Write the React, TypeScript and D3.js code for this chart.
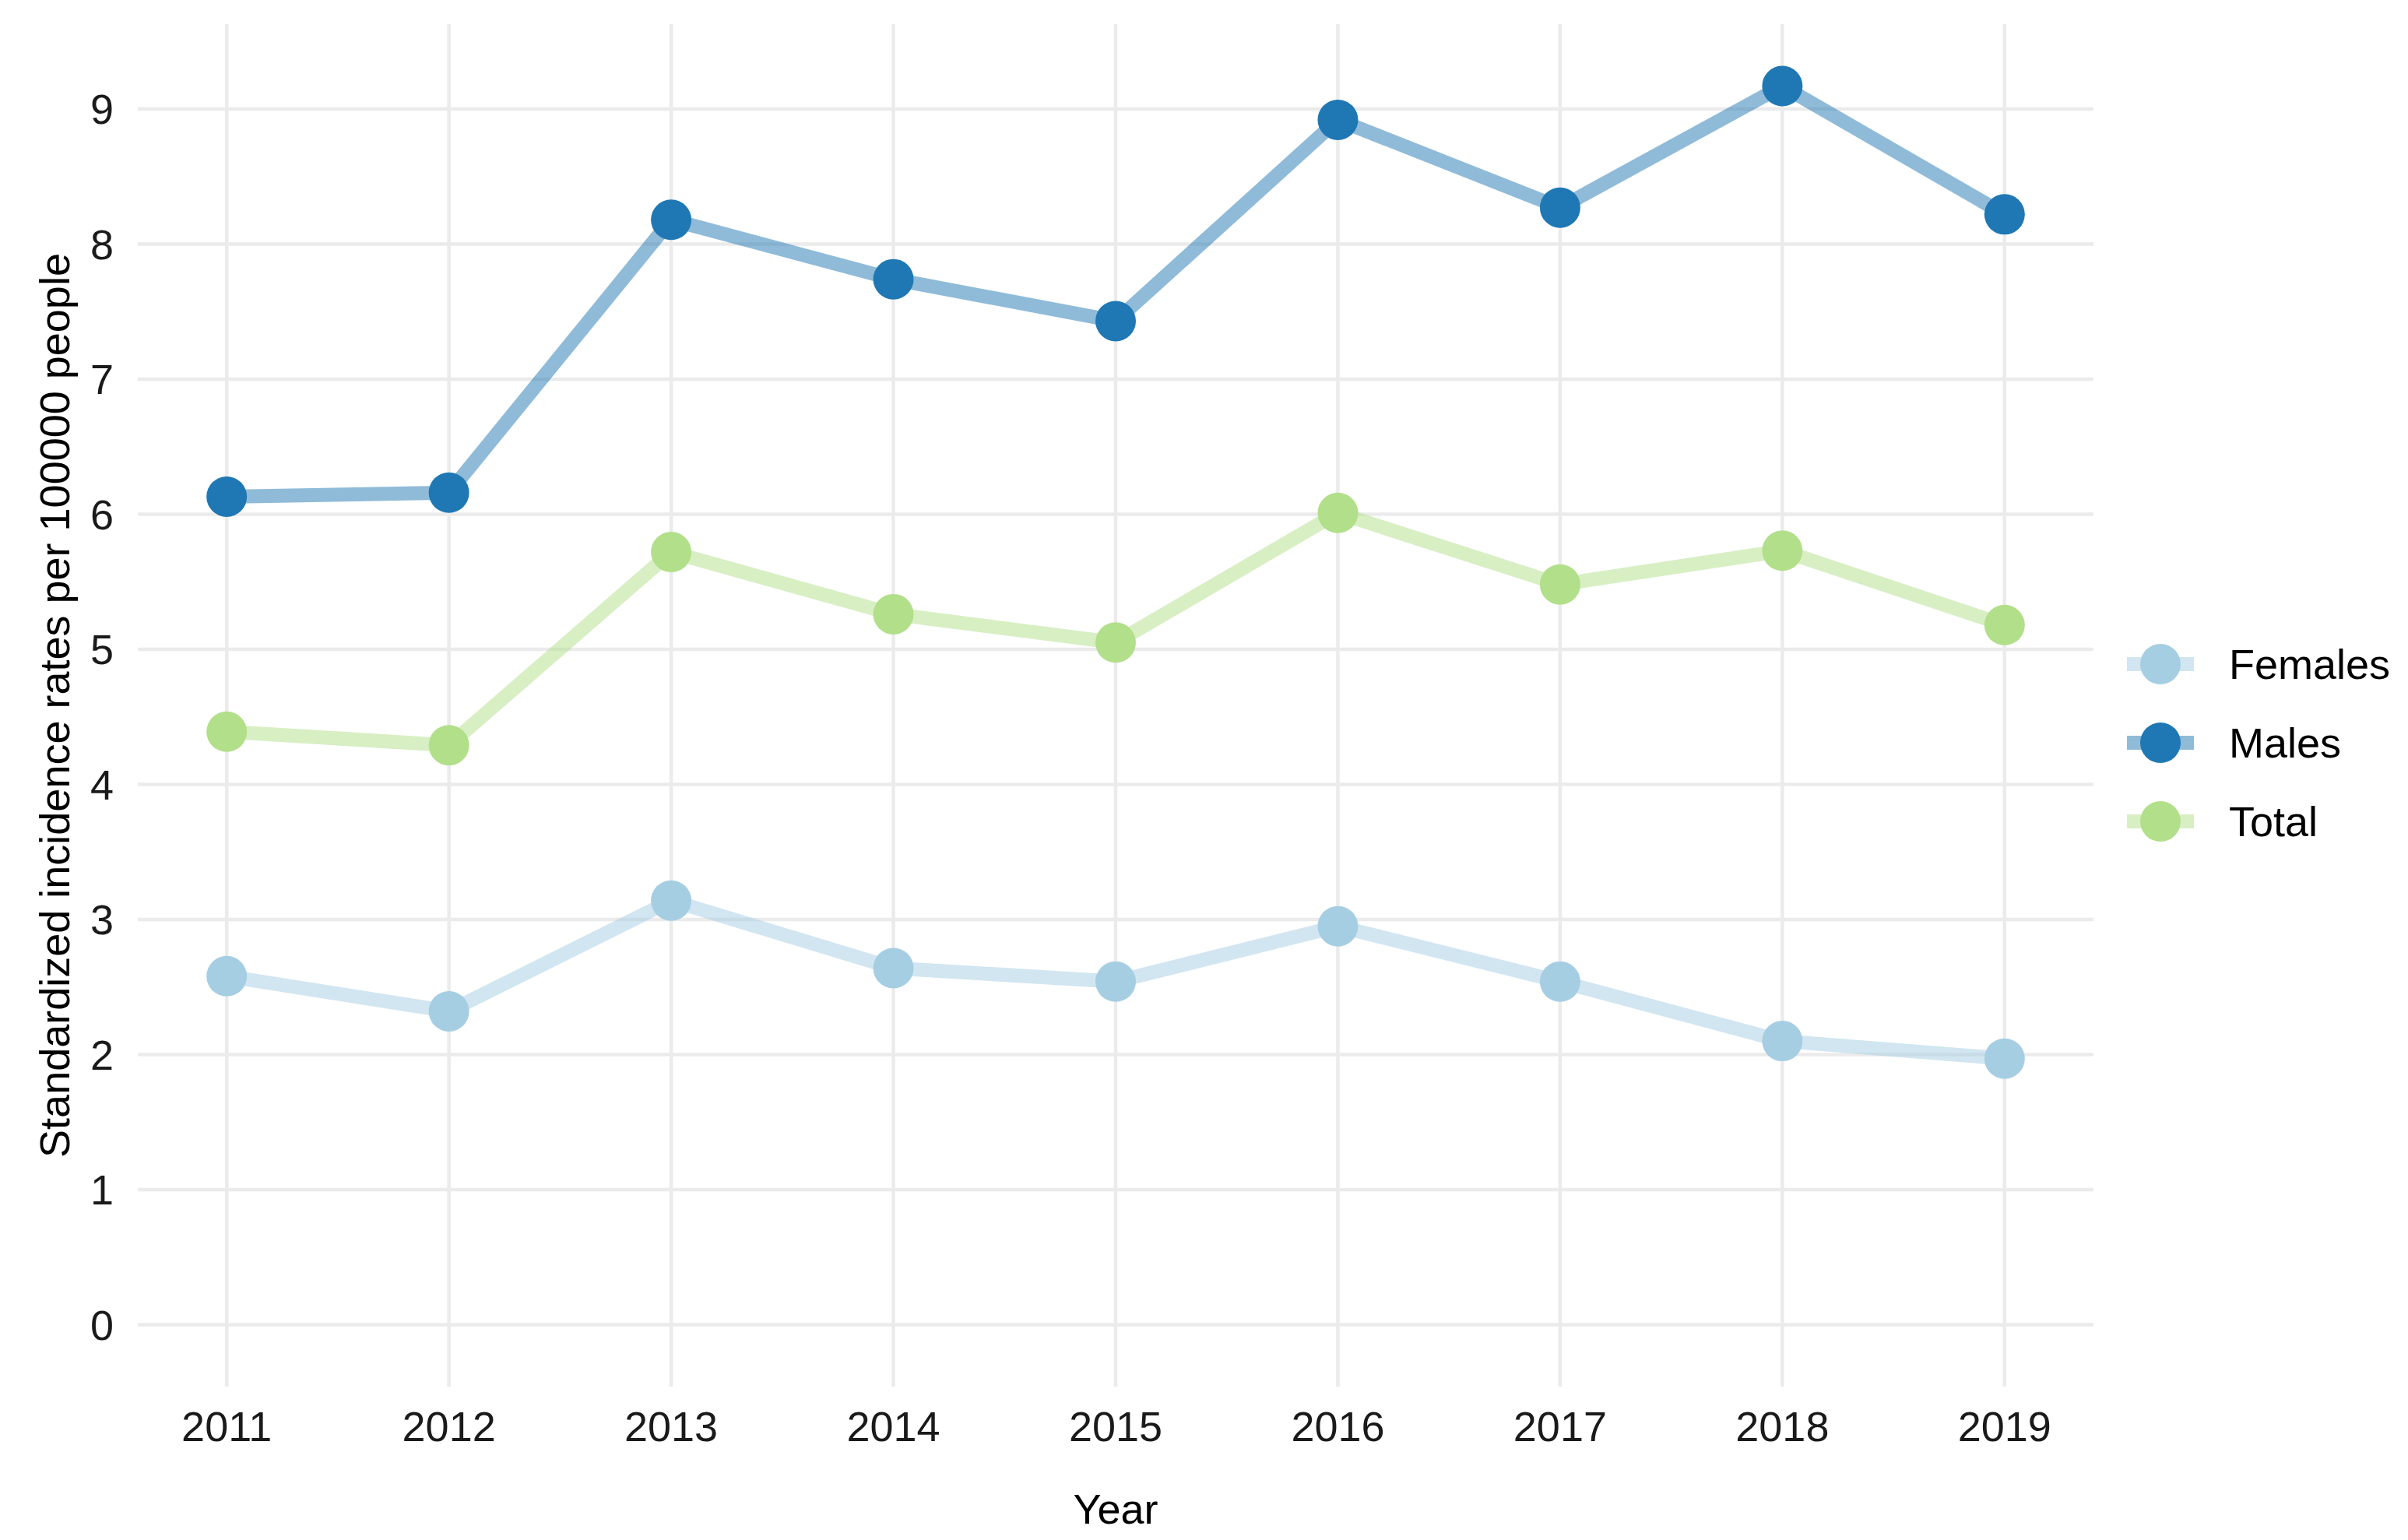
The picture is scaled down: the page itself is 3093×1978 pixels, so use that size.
import { useEffect, useRef } from 'react';
import * as d3 from 'd3';

const years = [2011, 2012, 2013, 2014, 2015, 2016, 2017, 2018, 2019];
const females = [2.58, 2.32, 3.14, 2.64, 2.54, 2.95, 2.54, 2.1, 1.97];
const males = [6.13, 6.16, 8.18, 7.74, 7.43, 8.92, 8.27, 9.17, 8.22];
const total = [4.39, 4.29, 5.72, 5.26, 5.05, 6.01, 5.48, 5.73, 5.18];
const seriesNames = ['Females', 'Males', 'Total'];
const seriesColors = ['#a6cee3', '#1f78b4', '#b2df8a'];
const yTicks = [0, 1, 2, 3, 4, 5, 6, 7, 8, 9];

export default function App() {
  const svgRef = useRef<SVGSVGElement>(null);

  useEffect(() => {
    const width = 3093;
    const height = 1978;
    const panel = { left: 177, right: 2689, top: 31, bottom: 1781 };
    const font = "'Liberation Sans', Arial, Helvetica, sans-serif";

    const series = [females, males, total].map((vals, i) => ({
      name: seriesNames[i],
      color: seriesColors[i],
      points: years.map((yr, j) => ({ year: yr, value: vals[j] })),
    }));

    // ggplot-style 5% expansion
    const xMin = d3.min(years)!;
    const xMax = d3.max(years)!;
    const xPad = (xMax - xMin) * 0.05;
    const yLo = 0;
    const yHi = d3.max([females, males, total].flat())!;
    const yPad = (yHi - yLo) * 0.05;

    const x = d3
      .scaleLinear()
      .domain([xMin - xPad, xMax + xPad])
      .range([panel.left, panel.right]);

    const y = d3
      .scaleLinear()
      .domain([yLo - yPad, yHi + yPad])
      .range([panel.bottom, panel.top]);

    const svg = d3.select(svgRef.current);
    svg.selectAll('*').remove();
    svg.attr('width', width).attr('height', height);

    svg.append('rect').attr('width', width).attr('height', height).attr('fill', '#ffffff');

    // Grid
    const grid = svg.append('g').attr('stroke', '#ebebeb').attr('stroke-width', 4.5);
    grid
      .selectAll('line.h')
      .data(yTicks)
      .enter()
      .append('line')
      .attr('x1', panel.left)
      .attr('x2', panel.right)
      .attr('y1', d => y(d))
      .attr('y2', d => y(d));
    grid
      .selectAll('line.v')
      .data(years)
      .enter()
      .append('line')
      .attr('x1', d => x(d))
      .attr('x2', d => x(d))
      .attr('y1', panel.top)
      .attr('y2', panel.bottom);

    // Lines
    const line = d3
      .line<{ year: number; value: number }>()
      .x(d => x(d.year))
      .y(d => y(d.value));

    svg
      .append('g')
      .selectAll('path')
      .data(series)
      .enter()
      .append('path')
      .attr('d', d => line(d.points)!)
      .attr('fill', 'none')
      .attr('stroke', d => d.color)
      .attr('stroke-opacity', 0.5)
      .attr('stroke-width', 18)
      .attr('stroke-linejoin', 'round');

    // Points
    series.forEach(s => {
      svg
        .append('g')
        .selectAll('circle')
        .data(s.points)
        .enter()
        .append('circle')
        .attr('cx', d => x(d.year))
        .attr('cy', d => y(d.value))
        .attr('r', 26)
        .attr('fill', s.color);
    });

    // Y tick labels
    svg
      .append('g')
      .selectAll('text')
      .data(yTicks)
      .enter()
      .append('text')
      .attr('x', 146)
      .attr('y', d => y(d))
      .attr('dy', '0.36em')
      .attr('text-anchor', 'end')
      .attr('font-family', font)
      .attr('font-size', 54)
      .attr('fill', '#1a1a1a')
      .text(d => d);

    // X tick labels
    svg
      .append('g')
      .selectAll('text')
      .data(years)
      .enter()
      .append('text')
      .attr('x', d => x(d))
      .attr('y', 1851)
      .attr('text-anchor', 'middle')
      .attr('font-family', font)
      .attr('font-size', 54)
      .attr('fill', '#1a1a1a')
      .text(d => d);

    // Axis titles
    svg
      .append('text')
      .attr('x', (panel.left + panel.right) / 2)
      .attr('y', 1957)
      .attr('text-anchor', 'middle')
      .attr('font-family', font)
      .attr('font-size', 54)
      .attr('fill', '#000')
      .text('Year');

    svg
      .append('text')
      .attr('transform', `translate(89,${(panel.top + panel.bottom) / 2}) rotate(-90)`)
      .attr('text-anchor', 'middle')
      .attr('font-family', font)
      .attr('font-size', 54)
      .attr('fill', '#000')
      .text('Standardized incidence rates per 100000 people');

    // Legend
    const legendY = d3.scalePoint<string>().domain(seriesNames).range([853, 1055]);
    const legend = svg
      .append('g')
      .selectAll('g')
      .data(series)
      .enter()
      .append('g')
      .attr('transform', d => `translate(0,${legendY(d.name)})`);
    legend
      .append('line')
      .attr('x1', 2732)
      .attr('x2', 2818)
      .attr('stroke', d => d.color)
      .attr('stroke-opacity', 0.5)
      .attr('stroke-width', 18);
    legend
      .append('circle')
      .attr('cx', 2775)
      .attr('r', 26)
      .attr('fill', d => d.color);
    legend
      .append('text')
      .attr('x', 2863)
      .attr('dy', '0.36em')
      .attr('font-family', font)
      .attr('font-size', 54)
      .attr('fill', '#000')
      .text(d => d.name);
  }, []);

  return (
    <div style={{ position: 'absolute', left: 0, top: 0 }}>
      <svg ref={svgRef} style={{ display: 'block' }}></svg>
    </div>
  );
}
